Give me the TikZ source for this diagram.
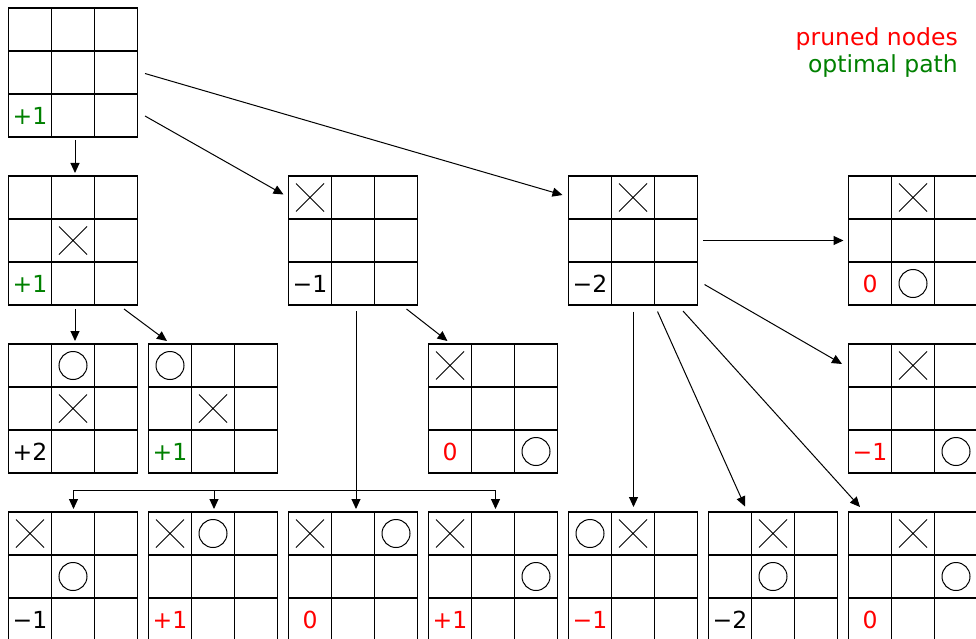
\documentclass[tikz,border=0pt]{standalone}
\usepackage{fontspec}
\setmainfont{DejaVu Sans}
\usetikzlibrary{arrows.meta,calc}
\definecolor{prunered}{RGB}{255,0,0}
\definecolor{optgreen}{RGB}{0,128,0}
\newcommand\boardgrid[1]{%
  \draw[gridln] ($(#1.north west)+(43,0)$) -- ++(0,129)
                ($(#1.north west)+(86,0)$) -- ++(0,129)
                ($(#1.north west)+(0,43)$) -- ++(129,0)
                ($(#1.north west)+(0,86)$) -- ++(129,0);}
\newcommand\Xat[3]{\draw[piece] ($(#1.north west)+({7.5+43*#3},{7.5+43*#2})$) -- ++(28,28) ++(0,-28) -- ++(-28,28);}
\newcommand\Oat[3]{\draw[piece] ($(#1.north west)+({21.5+43*#3},{21.5+43*#2})$) circle[radius=14];}
\newcommand\val[3]{\node[valtext, text=#2] (#1v) at ($(#1.north west)+(21.5,107.5)$) {#3};}
\begin{document}
\begin{tikzpicture}[x=1pt,y=-1pt,
  board/.style={draw, line width=1.2pt, minimum size=129pt, inner sep=0pt, outer sep=0pt},
  gridln/.style={line width=1.2pt},
  piece/.style={line width=1pt},
  valtext/.style={font=\fontsize{23.5}{27}\selectfont, inner sep=0pt},
  arr/.style={line width=1pt, -{Triangle[length=10pt,width=9pt]}},
  conn/.style={line width=1pt}]
\useasboundingbox (0,0) rectangle (976,639);

% boards: centre x = 73+140c, y = 72.5+168r
\node[board] (b0) at (73,72.5) {};
\node[board] (b1) at (73,240.5) {};
\node[board] (b2) at (353,240.5) {};
\node[board] (b3) at (633,240.5) {};
\node[board] (b4) at (913,240.5) {};
\node[board] (b5) at (73,408.5) {};
\node[board] (b6) at (213,408.5) {};
\node[board] (b7) at (493,408.5) {};
\node[board] (b8) at (913,408.5) {};
\node[board] (b9) at (73,576.5) {};
\node[board] (b10) at (213,576.5) {};
\node[board] (b11) at (353,576.5) {};
\node[board] (b12) at (493,576.5) {};
\node[board] (b13) at (633,576.5) {};
\node[board] (b14) at (773,576.5) {};
\node[board] (b15) at (913,576.5) {};

\foreach \b in {b0,b1,b2,b3,b4,b5,b6,b7,b8,b9,b10,b11,b12,b13,b14,b15}{\boardgrid{\b}}

% contents
\val{b0}{optgreen}{+1}
\Xat{b1}{1}{1} \val{b1}{optgreen}{+1}
\Xat{b2}{0}{0} \val{b2}{black}{−1}
\Xat{b3}{0}{1} \val{b3}{black}{−2}
\Xat{b4}{0}{1} \Oat{b4}{2}{1} \val{b4}{prunered}{0}
\Oat{b5}{0}{1} \Xat{b5}{1}{1} \val{b5}{black}{+2}
\Oat{b6}{0}{0} \Xat{b6}{1}{1} \val{b6}{optgreen}{+1}
\Xat{b7}{0}{0} \Oat{b7}{2}{2} \val{b7}{prunered}{0}
\Xat{b8}{0}{1} \Oat{b8}{2}{2} \val{b8}{prunered}{−1}
\Xat{b9}{0}{0} \Oat{b9}{1}{1} \val{b9}{black}{−1}
\Xat{b10}{0}{0} \Oat{b10}{0}{1} \val{b10}{prunered}{+1}
\Xat{b11}{0}{0} \Oat{b11}{0}{2} \val{b11}{prunered}{0}
\Xat{b12}{0}{0} \Oat{b12}{1}{2} \val{b12}{prunered}{+1}
\Oat{b13}{0}{0} \Xat{b13}{0}{1} \val{b13}{prunered}{−1}
\Xat{b14}{0}{1} \Oat{b14}{1}{1} \val{b14}{black}{−2}
\Xat{b15}{0}{1} \Oat{b15}{1}{2} \val{b15}{prunered}{0}

% legend
\node[valtext, text=prunered, anchor=base east] (leg1) at (958,45.5) {pruned nodes};
\node[valtext, text=optgreen, anchor=base east] (leg2) at (958,72.5) {optimal path};

% connectors
\draw[arr] ($(b0.south)+(2,3)$) -- ($(b1.north)+(2,-3)$);
\draw[arr] ($(b0.north east)+(7.5,108)$) -- ($(b2.north west)+(-5,18.5)$);
\draw[arr] ($(b0.east)+(7.5,1)$) -- ($(b3.north west)+(-6,19)$);

\draw[arr] ($(b1.south)+(2,4)$) -- ($(b5.north)+(2,-3)$);
\draw[arr] ($(b1.south east)+(-13.5,4)$) -- ($(b6.north west)+(18.5,-3)$);

\draw[arr] ($(b2.south east)+(-11,4)$) -- ($(b7.north west)+(19,-3)$);
\coordinate (bus) at ($(b2.south)+(3,185)$);
\draw[conn] ($(b2.south)+(3,6)$) -- (bus);
\draw[arr] (bus) -| ($(b9.north)+(0.5,-3)$);
\draw[arr] (bus) -| ($(b10.north)+(1,-3)$);
\draw[arr] (bus) -- ($(b11.north)+(3,-3)$);
\draw[arr] (bus) -| ($(b12.north)+(2.5,-3)$);

\draw[arr] ($(b3.east)+(5.5,0)$) -- ($(b4.west)+(-5,0)$);
\draw[arr] ($(b3.south east)+(7,-20.5)$) -- ($(b8.north west)+(-6.5,20)$);
\draw[arr] ($(b3.south)+(0.5,6.5)$) -- ($(b13.north)+(0.5,-5)$);
\draw[arr] ($(b3.south)+(24.5,6.5)$) -- ($(b14.north west)+(36.5,-5.5)$);
\draw[arr] ($(b3.south)+(50,6)$) -- ($(b15.north west)+(11.5,-5)$);
\end{tikzpicture}
\end{document}
